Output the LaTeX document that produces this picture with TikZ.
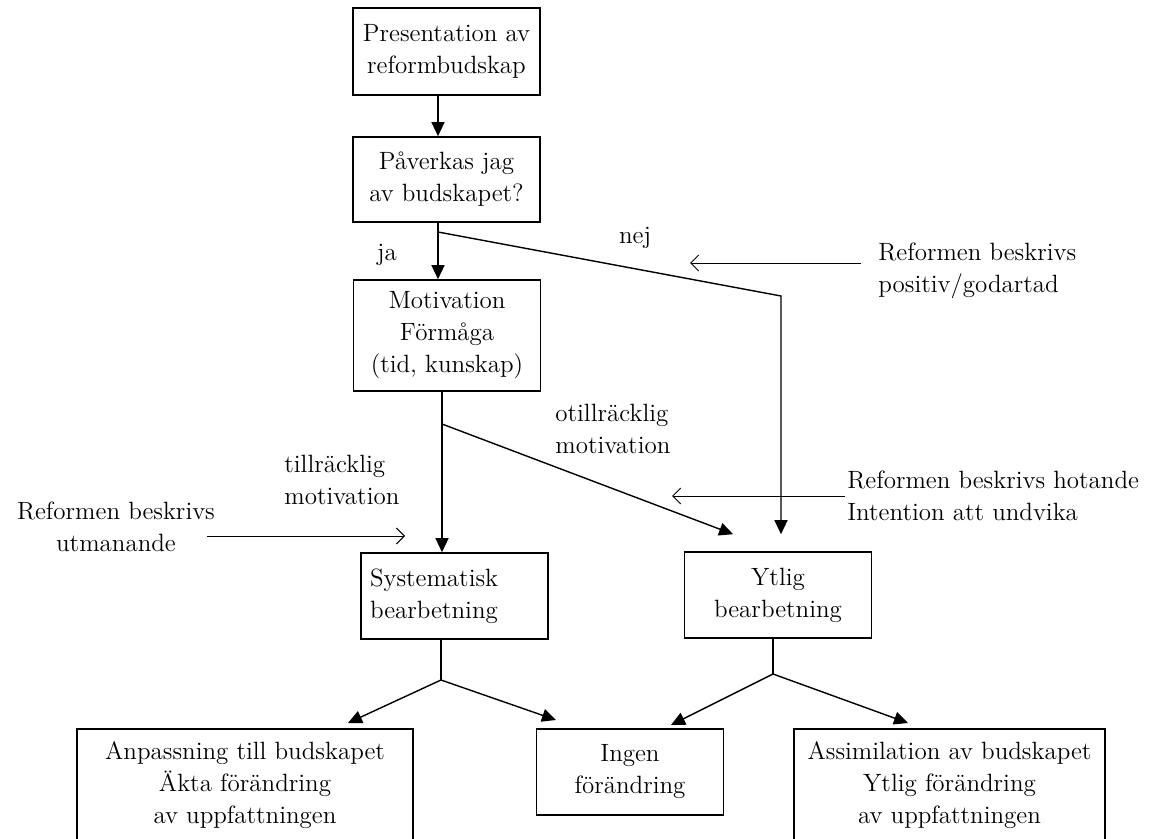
\documentclass[tikz,border=0pt]{standalone}
\usetikzlibrary{positioning, arrows.meta}

\begin{document}
\begin{tikzpicture}[x=0.5pt, y=-0.5pt,
      font=\fontsize{12.5}{16}\selectfont,
      box/.style={draw, line width=0.8pt, align=center, inner sep=4pt, minimum width=93.5pt, minimum height=43.5pt},
      lbl/.style={align=left, inner sep=0pt},
      trunk/.style={line width=0.7pt},
      arr/.style={trunk, -{Triangle[length=7pt, width=6.5pt]}},
      hint/.style={line width=0.45pt, -{Straight Barb[length=4pt, width=8pt]}}]

    \useasboundingbox (0,0) rectangle (1162,839);

    \node[box] (pres) at (446.5,51.5) {Presentation av\\ reformbudskap};
    \node[box, minimum height=42.5pt] (affect) at (446.5,179.5) {Påverkas jag\\ av budskapet?};
    \node[box, minimum height=55.5pt] (mot) at (447,335.5) {Motivation\\ Förmåga\\ (tid, kunskap)};
    \node[box, align=left, text width=84.5pt, minimum height=43pt] (syst) at (454.5,596) {Systematisk\\ bearbetning};
    \node[box, minimum height=43pt] (ytlig) at (778,595) {Ytlig\\ bearbetning};

    \node[box, minimum width=168pt, minimum height=56pt] (anp) at (245,785) {Anpassning till budskapet\\ Äkta förändring\\ av uppfattningen};
    \node[box, minimum height=43pt] (none) at (630,772) {Ingen\\ förändring};
    \node[box, minimum width=155.5pt, minimum height=56pt] (assim) at (949.5,785) {Assimilation av budskapet\\ Ytlig förändring\\ av uppfattningen};

    \node[lbl] (ja) at (387,255) {ja};
    \node[lbl] (nej) at (635,238) {nej};
    \node[lbl, anchor=west] (benign) at (878,271) {Reformen beskrivs\\ positiv/godartad};
    \node[lbl, anchor=west] (insuff) at (555,429) {otillräcklig\\ motivation};
    \node[lbl, anchor=west] (suff) at (284,480) {tillräcklig\\ motivation};
    \node[lbl, align=center] (challenge) at (116,527) {Reformen beskrivs\\ utmanande};
    \node[lbl, anchor=west] (threat) at (847,496) {Reformen beskrivs hotande\\ Intention att undvika};

    \coordinate (s1) at (438,232);
    \coordinate (kink) at (781,296);
    \coordinate (s2) at (442,424);
    \coordinate (s3) at (441,680);
    \coordinate (s4) at (773,674);
    \coordinate (benignend) at (690,263);
    \coordinate (threatend) at (672,496);
    \coordinate (challengeend) at (405,536);
    \coordinate (anptip) at (348,723);
    \coordinate (nonetipL) at (556,720);
    \coordinate (nonetipR) at (671,725);
    \coordinate (assimtip) at (908,723);

    \draw[arr] (pres.south -| s1) -- (affect.north -| s1);
    \draw[arr] (affect.south -| s1) -- (mot.north -| s1);
    \draw[arr, shorten >=8.5pt] (s1) -- (kink) -- (kink |- ytlig.north);
    \draw[arr] (mot.south -| s2) -- (syst.north -| s2);
    \draw[arr, shorten >=24pt] (s2) -- (ytlig.north);

    \draw[trunk] (syst.south -| s3) -- (s3);
    \draw[arr] (s3) -- (anptip);
    \draw[arr] (s3) -- (nonetipL);
    \draw[trunk] (ytlig.south -| s4) -- (s4);
    \draw[arr] (s4) -- (nonetipR);
    \draw[arr] (s4) -- (assimtip);

    \draw[hint] ([xshift=-8.5pt, yshift=4pt]benign.west) -- (benignend);
    \draw[hint] ([xshift=-1pt]threat.west) -- (threatend);
    \draw[hint] ([xshift=-4pt, yshift=-4.5pt]challenge.east) -- (challengeend);
  \end{tikzpicture}
\end{document}
